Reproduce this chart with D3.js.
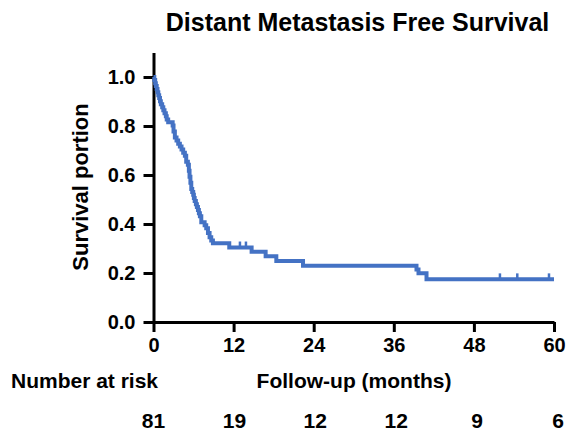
<!DOCTYPE html>
<html>
<head>
<meta charset="utf-8">
<script src="https://cdn.jsdelivr.net/npm/d3@7"></script>
<style>
  body { margin: 0; background: #fff; }
  svg text { font-family: "Liberation Sans", Arial, sans-serif; font-weight: bold; fill: #000; }
  .axis path, .axis line { stroke: #000; stroke-width: 3; }
  .axis text { font-size: 20px; }
</style>
</head>
<body>
<svg id="chart"></svg>
<script>
// step times (months) and survival after each step
const stepTimes = [0, 0.12, 0.25, 0.35, 0.48, 0.6, 0.72, 0.85, 0.97, 1.1, 1.3, 1.47, 1.65, 1.85, 1.98, 2.2,
  2.87, 3.0, 3.2, 3.45, 3.7, 3.95, 4.2, 4.45, 4.7, 4.9, 5.15, 5.3, 5.4, 5.53, 5.66, 5.8, 5.95, 6.05, 6.17,
  6.35, 6.5, 6.66, 6.8, 6.95, 7.16, 7.66, 7.9, 8.16, 8.4, 8.65, 8.9, 11.35, 14.7, 16.8, 18.4, 22.4,
  39.4, 39.7, 40.9];
const survival = [1.0, 0.988, 0.975, 0.963, 0.951, 0.938, 0.926, 0.914, 0.901, 0.889, 0.877, 0.864, 0.852,
  0.840, 0.827, 0.815, 0.802, 0.778, 0.753, 0.741, 0.728, 0.716, 0.704, 0.691, 0.679, 0.654, 0.642, 0.617,
  0.593, 0.568, 0.543, 0.531, 0.519, 0.506, 0.494, 0.481, 0.469, 0.457, 0.444, 0.432, 0.407, 0.395, 0.383,
  0.363, 0.346, 0.333, 0.321, 0.304, 0.287, 0.268, 0.249, 0.230, 0.214, 0.199, 0.174];
const followUpEnd = 60;

// censored observations (tick marks)
const censorTimes = [12.95, 13.85, 51.9, 54.5, 59.25];

// number at risk table
const riskTimes = [0, 12, 24, 36, 48, 60];
const riskCounts = [81, 19, 12, 12, 9, 6];

const xTicks = [0, 12, 24, 36, 48, 60];
const yTicks = [0, 0.2, 0.4, 0.6, 0.8, 1.0];

const width = 567, height = 440;
const margin = { top: 52.5, right: 13, bottom: 118, left: 153.5 };
const innerW = width - margin.left - margin.right;
const innerH = height - margin.top - margin.bottom;

const svg = d3.select("#chart").attr("width", width).attr("height", height);

const x = d3.scaleLinear().domain([0, 60]).range([0, innerW]);
const y = d3.scaleLinear().domain([0, 1.1]).range([innerH, 0]);

const chart = svg.append("g")
  .attr("transform", `translate(${margin.left},${margin.top})`);

// title
svg.append("text")
  .attr("x", 357.5).attr("y", 31)
  .attr("text-anchor", "middle")
  .style("font-size", "25px")
  .text("Distant Metastasis Free Survival");

// axes
chart.append("g")
  .attr("class", "axis")
  .attr("transform", `translate(0,${innerH})`)
  .call(d3.axisBottom(x).tickValues(xTicks).tickSize(10).tickSizeOuter(0).tickPadding(6));

chart.append("g")
  .attr("class", "axis")
  .call(d3.axisLeft(y).tickValues(yTicks).tickFormat(d3.format(".1f")).tickSize(10).tickSizeOuter(0).tickPadding(8));

// y label
svg.append("text")
  .attr("transform", `translate(88,187) rotate(-90)`)
  .attr("text-anchor", "middle")
  .style("font-size", "22px")
  .text("Survival portion");

// survival curve
const steps = stepTimes.map((t, i) => ({ t: t, s: survival[i] }));
steps.push({ t: followUpEnd, s: survival[survival.length - 1] });

const line = d3.line()
  .x(d => x(d.t))
  .y(d => y(d.s))
  .curve(d3.curveStepAfter);

chart.append("path")
  .datum(steps)
  .attr("fill", "none")
  .attr("stroke", "#4472c4")
  .attr("stroke-width", 4)
  .attr("d", line);

// censor marks
const bisect = d3.bisector(d => d.t).right;
chart.selectAll(".censor")
  .data(censorTimes)
  .join("line")
  .attr("class", "censor")
  .attr("x1", d => x(d)).attr("x2", d => x(d))
  .attr("y1", d => y(steps[bisect(steps, d) - 1].s) - 6)
  .attr("y2", d => y(steps[bisect(steps, d) - 1].s))
  .attr("stroke", "#4472c4")
  .attr("stroke-width", 2.5);

// x label and risk table
svg.append("text")
  .attr("x", 354).attr("y", 388)
  .attr("text-anchor", "middle")
  .style("font-size", "21px")
  .text("Follow-up (months)");

svg.append("text")
  .attr("x", 11).attr("y", 388)
  .style("font-size", "21px")
  .text("Number at risk");

svg.selectAll(".risk")
  .data(riskCounts)
  .join("text")
  .attr("class", "risk")
  .attr("x", (d, i) => margin.left + x(riskTimes[i]) + i * 0.8)
  .attr("y", 428)
  .attr("text-anchor", "middle")
  .style("font-size", "21px")
  .text(d => d);
</script>
</body>
</html>
